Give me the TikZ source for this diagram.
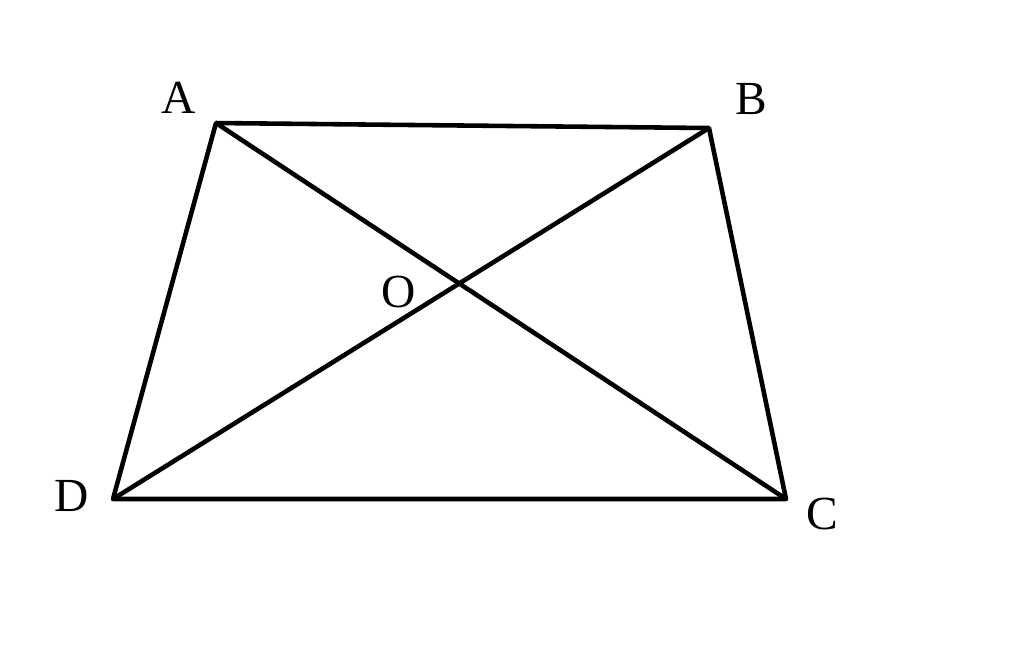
\documentclass[tikz,border=0pt]{standalone}
\usepackage{fontspec}
\setmainfont{Liberation Serif}
\usetikzlibrary{positioning}

\begin{document}
\begin{tikzpicture}[x=0.01cm, y=-0.01cm, line width=1.3pt, line join=round,
  every node/.style={font=\fontsize{13.5}{15}\selectfont}]
  \useasboundingbox (0,0) rectangle (1024,647);
  \coordinate (A) at (216,123);
  \coordinate (B) at (709,128);
  \coordinate (C) at (786,499);
  \coordinate (D) at (113,499);
  \coordinate (O) at (458,284);

  \node (la) at (179,98) {A};
  \node (lb) at (751,99) {B};
  \node (lc) at (822,514) {C};
  \node (ld) at (72,496) {D};
  \node (lo) at (399,292) {O};

  \draw (A) -- (B) -- (C) -- (D) -- cycle;
  \draw (A) -- (C);
  \draw (B) -- (D);
\end{tikzpicture}
\end{document}
